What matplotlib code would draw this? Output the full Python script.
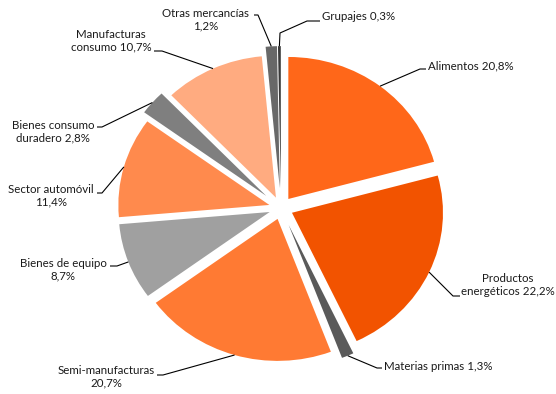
import matplotlib
matplotlib.use('Agg')
import matplotlib.pyplot as plt
import numpy as np

# datos: reparto por sectores (%)
sectores = ['Alimentos', 'Productos energéticos', 'Materias primas', 'Semi-manufacturas',
            'Bienes de equipo', 'Sector automóvil', 'Bienes consumo duradero',
            'Manufacturas consumo', 'Otras mercancías', 'Grupajes']
porcentajes = [20.8, 22.2, 1.3, 20.7, 8.7, 11.4, 2.8, 10.7, 1.2, 0.3]
etiquetas = ['Alimentos 20,8%', 'Productos\nenergéticos 22,2%', 'Materias primas 1,3%',
             'Semi-manufacturas\n20,7%', 'Bienes de equipo\n8,7%', 'Sector automóvil\n11,4%',
             'Bienes consumo\nduradero 2,8%', 'Manufacturas\nconsumo 10,7%',
             'Otras mercancías\n1,2%', 'Grupajes 0,3%']
colores = ['#FF6719', '#F25300', '#5A5A5A', '#FF7A33', '#A0A0A0', '#FF8A4D',
           '#7F7F7F', '#FFAB80', '#686868', '#3A3A3A']
separacion = [0.08, 0.08, 0.13, 0.08, 0.08, 0.08, 0.13, 0.08, 0.14, 0.14]

W, H = 556, 394
R = 151
esc = 151 / 142  # el gráfico original está algo achatado


def px(x, y):
    # coordenadas en pixeles (origen arriba-izquierda) -> datos
    return x, (H - y) * esc


# posicion de cada etiqueta: (x, y, alineacion) y puntos de la linea guia
textos = [(428, 66, 'left'), (508, 285, 'center'), (384, 366, 'left'),
          (106, 377, 'center'), (63, 270, 'center'), (51, 196, 'center'),
          (53, 132, 'center'), (111, 41, 'center'), (206, 20, 'center'),
          (322, 17, 'left')]
guias = [[(426, 69), (420, 69)], [(460, 296), (453, 296)], [(382, 368), (377, 368)],
         [(157, 375), (163, 375)], [(110, 266), (117, 266)], [(97, 193), (102, 193)],
         [(97, 127), (102, 127)], [(154, 51), (162, 51)], [(254, 15), (258, 15)],
         [(320, 21), (307, 21), (280, 33)]]

fig = plt.figure(figsize=(W / 100, H / 100), dpi=100)
ax = fig.add_axes([0, 0, 1, 1])

cx, cy = px(281, 208)
wedges, _ = ax.pie(porcentajes, colors=colores, explode=[s * R for s in separacion],
                   startangle=90, counterclock=False, radius=R, center=(cx, cy),
                   wedgeprops=dict(linewidth=0))
ax.set_aspect('auto')
ax.set_xlim(0, W)
ax.set_ylim(0, H * esc)
ax.axis('off')

for w, txt, (tx, ty, ha), guia in zip(wedges, etiquetas, textos, guias):
    ang = np.deg2rad((w.theta1 + w.theta2) / 2)
    bx = w.center[0] + w.r * np.cos(ang)
    by = w.center[1] + w.r * np.sin(ang)
    pts = [px(*p) for p in guia] + [(bx, by)]
    ax.plot([p[0] for p in pts], [p[1] for p in pts], color='black', lw=0.8,
            solid_capstyle='butt')
    x, y = px(tx, ty)
    ax.text(x, y, txt, ha=ha, va='center', multialignment='center',
            fontsize=8.3, family=['Lato', 'DejaVu Sans'], color='#1a1a1a',
            linespacing=1.2)

fig.savefig('out.png', dpi=100)
